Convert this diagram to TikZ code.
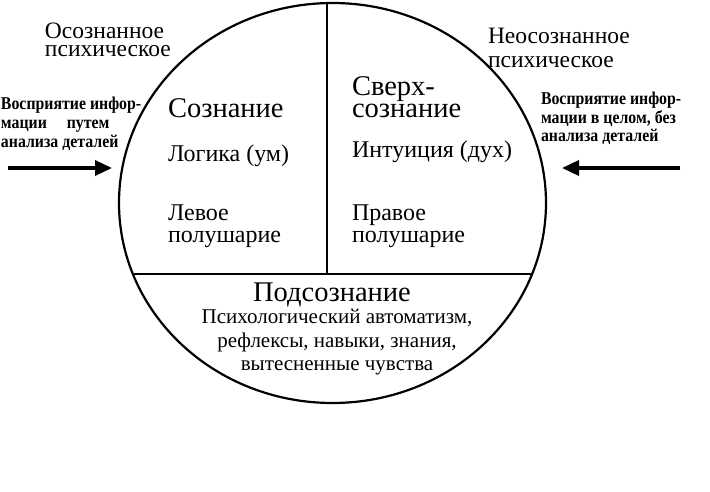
\documentclass[tikz,border=0pt]{standalone}
\usepackage{fontspec}
\setmainfont{Liberation Serif}
\newfontfamily\sidefont[FakeStretch=0.88]{Liberation Serif}
\usetikzlibrary{arrows.meta,shapes.geometric}
\tikzset{
  lbl/.style={inner sep=0pt, outer sep=0pt, anchor=base west},
  lblc/.style={inner sep=0pt, outer sep=0pt, anchor=base},
  corner/.style={lbl, font=\fontsize{23.5}{23.5}\selectfont},
  side/.style={lbl, font=\sidefont\fontsize{18}{18}\selectfont\bfseries},
  big/.style={lbl, font=\fontsize{28.5}{28.5}\selectfont},
  mid/.style={lbl, font=\fontsize{24}{24}\selectfont},
  sub/.style={lblc, font=\fontsize{21}{21}\selectfont},
  divider/.style={line width=1.2pt},
  inarrow/.style={line width=3.5pt, -{Triangle[length=17pt,width=15pt]}},
}
\begin{document}
\begin{tikzpicture}[x=1pt,y=-1pt]
\useasboundingbox (0,0) rectangle (710,492);
% outer ellipse
\node[ellipse, draw, line width=2.2pt, minimum width=427pt, minimum height=400pt, inner sep=0pt] (E) at (332.5,203) {};
% dividers
\coordinate (vt) at (327,3);
\coordinate (vb) at (327,274);
\coordinate (hl) at (133.5,274);
\coordinate (hr) at (531.5,274);
\draw[divider] (vt) -- (vb);
\draw[divider] (hl) -- (hr);
% corner labels
\node[corner] (os1) at (45,38.5) {Осознанное};
\node[corner] (os2) at (45,56.5) {психическое};
\node[corner] (ne1) at (488,44) {Неосознанное};
\node[corner] (ne2) at (488,68) {психическое};
% side labels
\node[side] (l1) at (1,110) {Восприятие инфор-};
\node[side] (l2) at (1,129) {мации\hspace{1.1em}путем};
\node[side] (l3) at (1,148) {анализа деталей};
\node[side] (r1) at (541,105) {Восприятие инфор-};
\node[side] (r2) at (541,123.5) {мации в целом, без};
\node[side] (r3) at (541,142) {анализа деталей};
% arrows
\coordinate (la1) at (8,168);
\coordinate (la2) at (112,168);
\coordinate (ra1) at (680,168);
\coordinate (ra2) at (562,168);
\draw[inarrow] (la1) -- (la2);
\draw[inarrow] (ra1) -- (ra2);
% left half
\node[big] (soz) at (168,118) {Сознание};
\node[mid] (log) at (168,162) {Логика (ум)};
\node[mid] (lev1) at (168,220) {Левое};
\node[mid] (lev2) at (168,242) {полушарие};
% right half
\node[big] (sv1) at (352,96) {Сверх-};
\node[big] (sv2) at (352,118) {сознание};
\node[mid] (int) at (352,158) {Интуиция (дух)};
\node[mid] (pr1) at (352,220) {Правое};
\node[mid] (pr2) at (352,242) {полушарие};
% bottom
\node[lblc, font=\fontsize{28.5}{28.5}\selectfont] (pod) at (332,301) {Подсознание};
\node[sub] (ps1) at (337,323) {Психологический автоматизм,};
\node[sub] (ps2) at (337,347) {рефлексы, навыки, знания,};
\node[sub] (ps3) at (337,370) {вытесненные чувства};
\end{tikzpicture}
\end{document}
